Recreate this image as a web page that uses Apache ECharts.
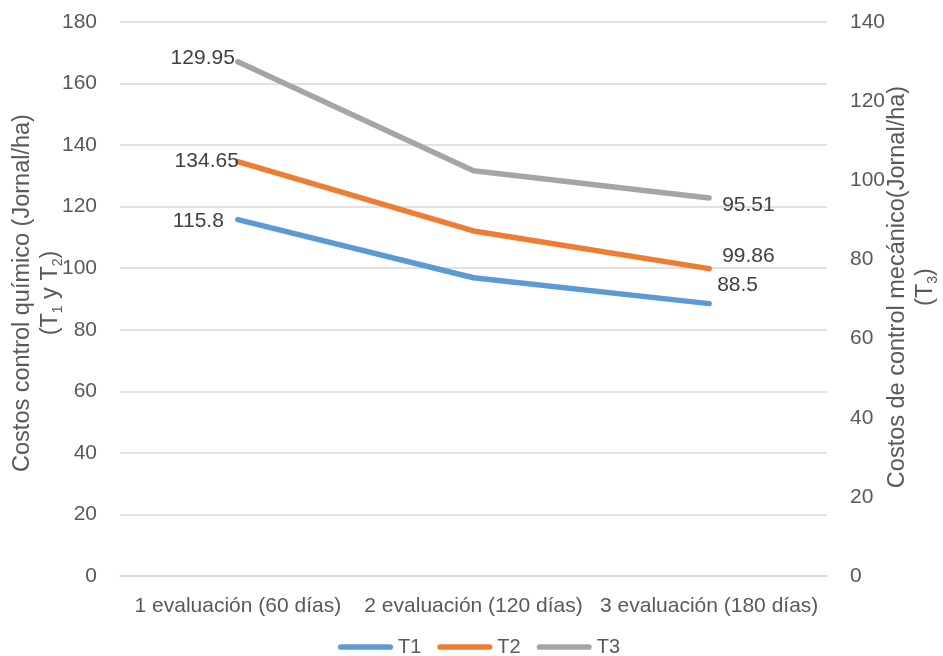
<!DOCTYPE html>
<html>
<head>
<meta charset="utf-8">
<script src="https://cdn.jsdelivr.net/npm/echarts@6/dist/echarts.min.js"></script>
<style>
html,body{margin:0;padding:0;background:#fff;}
#chart{width:943px;height:656px;}
</style>
</head>
<body>
<div id="chart"></div>
<script>
const categories = ['1 evaluación (60 días)', '2 evaluación (120 días)', '3 evaluación (180 días)'];
const seriesNames = ['T1', 'T2', 'T3'];
const t1 = [115.8, 96.9, 88.5];
const t2 = [134.65, 112.1, 99.86];
const t3 = [129.95, 102.4, 95.51];
const leftAxis = { min: 0, max: 180, interval: 20 };
const rightAxis = { min: 0, max: 140, interval: 20 };

const FONT = 'Liberation Sans';
const TXT = '#595959';
const colors = ['#5B9BD5', '#ED7D31', '#A5A5A5'];

const labelStyles = [
  [{ show: true, position: 'left', distance: 14, offset: [0, 2] }, { show: false }, { show: true, position: 'right', distance: 8, offset: [0, -18] }],
  [{ show: true, position: 'left', distance: 0, offset: [1, 0] }, { show: false }, { show: true, position: 'right', distance: 13, offset: [0, -12] }],
  [{ show: true, position: 'left', distance: 3, offset: [0, -4] }, { show: false }, { show: true, position: 'right', distance: 13, offset: [0, 7] }]
];

function build(values, idx) {
  return values.map((v, i) => ({ value: v, label: labelStyles[idx][i] }));
}

const chart = echarts.init(document.getElementById('chart'), null, { renderer: 'canvas' });

const richTitle = {
  a: { fontFamily: FONT, fontSize: 23.5, color: TXT, lineHeight: 28 },
  s: { fontFamily: FONT, fontSize: 14, color: TXT, lineHeight: 14, verticalAlign: 'bottom' }
};

const option = {
  animation: false,
  backgroundColor: '#fff',
  textStyle: { fontFamily: FONT, color: TXT },
  grid: { left: 120, right: 116, top: 22, bottom: 80, containLabel: false, outerBoundsMode: 'none' },
  legend: {
    data: seriesNames,
    left: 338,
    top: 637,
    padding: 0,
    itemWidth: 55,
    itemHeight: 6,
    itemGap: 16,
    icon: 'path://M3,0 L55,0 A3,3 0 0 1 55,6 L3,6 A3,3 0 0 1 3,0 Z',
    textStyle: { fontFamily: FONT, fontSize: 20, color: TXT }
  },
  xAxis: {
    type: 'category',
    data: categories,
    boundaryGap: true,
    axisTick: { show: false },
    axisLine: { show: true, lineStyle: { color: '#d9d9d9', width: 1.5 } },
    axisLabel: { fontFamily: FONT, fontSize: 21, color: TXT, margin: 20, interval: 0 }
  },
  yAxis: [
    {
      type: 'value',
      min: leftAxis.min, max: leftAxis.max, interval: leftAxis.interval,
      position: 'left',
      axisLine: { show: false },
      axisTick: { show: false },
      splitLine: { show: true, lineStyle: { color: '#d9d9d9', width: 1.5 } },
      axisLabel: { fontFamily: FONT, fontSize: 21, color: TXT, margin: 23 },
      name: '{a|Costos control químico (Jornal/ha)}\n{a|(T}{s|1}{a| y T}{s|2}{a|)}',
      nameLocation: 'middle',
      nameMoveOverlap: false,
      nameGap: 55,
      nameTextStyle: { rich: richTitle, padding: [0, 0, 0, 12] }
    },
    {
      type: 'value',
      min: rightAxis.min, max: rightAxis.max, interval: rightAxis.interval,
      position: 'right',
      axisLine: { show: false },
      axisTick: { show: false },
      splitLine: { show: false },
      axisLabel: { fontFamily: FONT, fontSize: 21, color: TXT, margin: 23 },
      name: '{a|Costos de control mecánico(Jornal/ha)}\n{a|(T}{s|3}{a|)}',
      nameLocation: 'middle',
      nameMoveOverlap: false,
      nameGap: 57,
      nameTextStyle: { rich: richTitle, padding: [0, 0, 0, 24] }
    }
  ],
  series: [t1, t2, t3].map((vals, k) => ({
    name: seriesNames[k],
    type: 'line',
    yAxisIndex: k === 2 ? 1 : 0,
    data: build(vals, k),
    color: colors[k],
    symbol: 'circle',
    symbolSize: 0,
    showSymbol: true,
    itemStyle: { color: colors[k] },
    lineStyle: { color: colors[k], width: 5.5, cap: 'round', join: 'round' },
    label: { fontFamily: FONT, fontSize: 21, color: '#404040' },
    emphasis: { disabled: true }
  }))
};

chart.setOption(option);
</script>
</body>
</html>
